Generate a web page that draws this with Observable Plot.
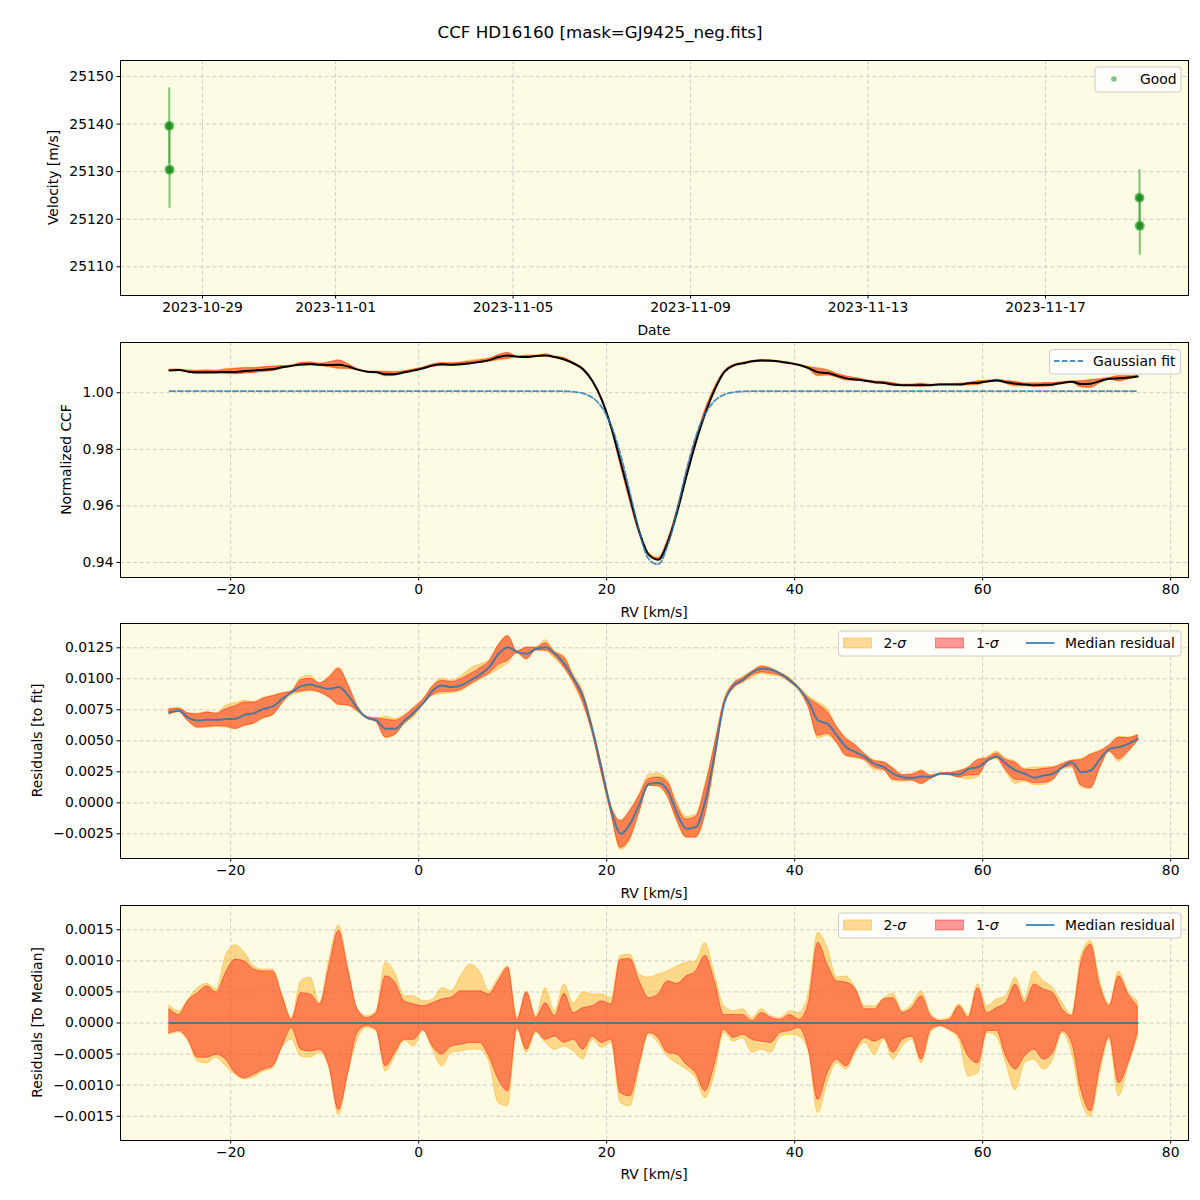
<!DOCTYPE html>
<html>
<head>
<meta charset="utf-8">
<script src="https://cdn.jsdelivr.net/npm/d3@7"></script>
<script src="https://cdn.jsdelivr.net/npm/@observablehq/plot@0.6"></script>
<style>
html, body { margin: 0; padding: 0; background: #ffffff; }
#fig { position: relative; width: 1200px; height: 1200px; font-family: "DejaVu Sans", sans-serif; background: #ffffff; }
#title { position: absolute; left: 0; top: 22px; width: 1200px; text-align: center; font-size: 16.7px; line-height: 20px; color: #000; }
</style>
</head>
<body>
<div id="fig"><div id="title">CCF HD16160 [mask=GJ9425_neg.fits]</div></div>
<script>
// ---------------- Panel 1 : RV time series ----------------
const obsTime = ["2023-10-28T06:00:00Z", "2023-10-28T06:10:00Z", "2023-11-19T02:50:00Z", "2023-11-19T03:00:00Z"];
const obsVel  = [25139.6, 25130.4, 25124.5, 25118.6];
const obsErr  = [8.0, 8.1, 5.9, 6.2];
const dateTicks = ["2023-10-29", "2023-11-01", "2023-11-05", "2023-11-09", "2023-11-13", "2023-11-17"];
const velTicks = [25110, 25120, 25130, 25140, 25150];

// ---------------- CCF grid (km/s) ----------------
const rv = [-26.5,-25.5,-24.5,-23.5,-22.5,-21.5,-20.5,-19.5,-18.5,-17.5,-16.5,-15.5,-14.5,-13.5,-12.5,-11.5,-10.5,-9.5,-8.5,-7.5,-6.5,-5.5,-4.5,-3.5,-2.5,-1.5,-0.5,
  0.5,1.5,2.5,3.5,4.5,5.5,6.5,7.5,8.5,9.5,10.5,11.5,12.5,13.5,14.5,15.5,16.5,17.5,18.5,19.5,20.5,21.5,22.5,23.5,24.5,
  25.5,26.5,27.5,28.5,29.5,30.5,31.5,32.5,33.5,34.5,35.5,36.5,37.5,38.5,39.5,40.5,41.5,42.5,43.5,44.5,45.5,46.5,47.5,48.5,49.5,
  50.5,51.5,52.5,53.5,54.5,55.5,56.5,57.5,58.5,59.5,60.5,61.5,62.5,63.5,64.5,65.5,66.5,67.5,68.5,69.5,70.5,71.5,72.5,73.5,74.5,75.5,76.5];

// Gaussian fit values at each RV
const gaussFit = [1.0006,1.0006,1.0006,1.0006,1.0006,1.0006,1.0006,1.0006,1.0006,1.0006,1.0006,1.0006,1.0006,1.0006,1.0006,1.0006,1.0006,1.0006,1.0006,1.0006,1.0006,1.0006,1.0006,1.0006,1.0006,1.0006,1.0006,
  1.0006,1.0006,1.0006,1.0006,1.0006,1.0006,1.0006,1.0006,1.0006,1.0006,1.0006,1.0006,1.0006,1.0006,1.0006,
  1.00054,1.00035,0.99978,0.99826,0.99482,0.98828,0.97787,0.96438,0.95070,0.94116,0.93940,0.94614,0.95871,0.97276,0.98458,0.99265,0.99718,0.99933,1.00019,1.00049,1.00059,
  1.0006,1.0006,1.0006,1.0006,1.0006,1.0006,1.0006,1.0006,1.0006,1.0006,1.0006,1.0006,1.0006,1.0006,1.0006,1.0006,1.0006,1.0006,1.0006,1.0006,1.0006,
  1.0006,1.0006,1.0006,1.0006,1.0006,1.0006,1.0006,1.0006,1.0006,1.0006,1.0006,1.0006,1.0006,1.0006,1.0006,1.0006,1.0006,1.0006,1.0006,1.0006];

// Median residual (CCF - fit)
const medianResid = [0.00731,0.00745,0.00685,0.00664,0.00669,0.00669,0.00675,0.00677,0.00710,0.00723,0.00758,0.00777,0.00839,0.00892,0.00941,0.00954,0.00933,0.00919,0.00933,0.00866,0.00758,0.00685,0.00664,0.00597,0.00597,0.00664,0.00731,
  0.00804,0.00906,0.00946,0.00933,0.00946,0.00987,0.01032,0.01094,0.01202,0.01255,0.01215,0.01202,0.01242,0.01255,0.01202,0.01121,0.01000,0.00852,0.00583,0.00261,-0.00062,-0.00250,-0.00169,-0.00008,0.00153,
  0.00159,0.00099,-0.00089,-0.00210,-0.00196,0.00019,0.00395,0.00798,0.00946,0.00992,0.01054,0.01081,0.01073,0.01040,0.00987,0.00919,0.00812,0.00664,0.00637,0.00543,0.00449,0.00409,0.00368,0.00314,0.00288,
  0.00234,0.00207,0.00202,0.00212,0.00207,0.00234,0.00234,0.00228,0.00274,0.00288,0.00341,0.00374,0.00314,0.00261,0.00234,0.00202,0.00220,0.00234,0.00288,0.00328,0.00247,0.00261,0.00355,0.00435,0.00449,0.00476,0.00516];

// Percentile bands relative to the median, listed in units of 1e-4
const sig2Hi = [2.8,1.9,3.8,5.6,6.3,5.4,10.8,12.5,11.3,9.1,8.6,8.6,4.6,0.8,6.7,7.3,3.2,10.2,15.7,9.1,2.3,1.1,1.9,9.7,8.1,4.3,4.3,
  3.5,3.7,5.6,5.1,7.5,9.4,8.3,5.1,7.3,9.1,0.8,5.1,1.1,5.6,1.9,6.2,3.2,4.9,4.6,4.6,4.0,10.8,11.0,7.8,7.3,
  7.8,8.3,9.1,9.7,9.9,12.9,7.8,2.7,1.9,2.2,0.8,2.2,1.1,0.8,1.9,1.6,4.8,14.5,12.1,7.3,7.5,5.6,2.7,2.7,4.0,
  4.7,1.9,3.0,5.1,1.5,0.5,0.8,3.0,1.3,6.2,2.7,3.8,4.3,7.3,4.0,8.3,6.7,5.6,3.2,1.3,10.8,13.2,6.7,3.0,8.3,5.1,3.5];
const sig1Hi = [2.2,1.3,3.6,4.8,5.9,4.9,8.1,10.2,9.9,8.6,8.3,8.3,4.3,0.5,4.8,4.6,3.0,9.1,14.8,8.6,2.2,0.8,1.6,7.5,6.5,3.5,3.0,
  2.7,3.2,3.8,4.1,5.1,5.1,5.1,4.6,6.7,8.9,0.5,4.9,0.8,3.2,1.1,4.7,1.6,2.4,2.7,3.5,3.0,10.2,10.3,6.7,4.0,
  4.6,6.7,6.3,7.5,8.3,10.8,6.7,1.3,1.3,1.3,0.3,1.6,0.8,0.5,1.3,0.5,3.2,12.9,9.4,6.7,6.5,5.4,2.2,2.2,3.8,
  4.0,1.6,2.4,4.3,1.1,0.3,0.5,2.7,0.8,5.6,1.6,2.4,3.2,6.2,3.2,6.2,5.4,4.8,2.2,1.1,9.7,12.6,5.9,2.7,7.5,4.6,2.7];
const sig1Lo = [-1.7,-1.3,-2.7,-5.6,-5.6,-5.1,-5.9,-8.1,-8.9,-8.3,-7.5,-7.0,-3.8,-0.8,-4.3,-4.6,-4.3,-7.0,-14.0,-8.1,-1.6,-0.5,-1.1,-7.0,-4.8,-2.7,-2.7,
  -1.1,-3.8,-5.1,-3.8,-3.5,-3.2,-3.2,-5.4,-9.1,-11.0,-0.8,-4.3,-1.3,-2.7,-2.2,-3.2,-2.7,-4.3,-2.2,-3.2,-2.7,-11.3,-11.8,-6.5,-1.6,
  -2.4,-4.8,-5.1,-6.7,-8.1,-11.0,-6.7,-1.1,-2.4,-1.9,-2.7,-3.0,-3.2,-1.6,-1.3,-0.8,-4.3,-12.4,-8.1,-5.9,-7.0,-4.3,-2.4,-3.0,-2.4,
  -4.8,-2.7,-2.2,-5.9,-1.1,-0.5,-1.1,-2.2,-5.4,-6.5,-1.3,-1.3,-5.4,-7.5,-5.4,-4.3,-5.9,-4.8,-1.3,-3.2,-10.8,-14.2,-7.0,-2.2,-9.7,-6.5,-1.6];
const sig2Lo = [-1.9,-1.5,-3.0,-6.2,-6.5,-5.6,-7.0,-8.3,-9.1,-8.7,-7.8,-7.3,-4.0,-2.7,-5.4,-5.6,-4.8,-7.3,-14.8,-8.3,-2.7,-0.8,-1.3,-7.8,-5.4,-2.9,-3.8,
  -1.3,-4.3,-7.0,-4.8,-4.6,-4.3,-4.3,-6.2,-12.9,-13.4,-1.1,-4.8,-1.6,-3.2,-4.3,-3.8,-4.6,-5.9,-2.7,-4.0,-3.2,-12.9,-13.4,-7.3,-1.9,
  -3.2,-5.4,-6.5,-7.5,-8.9,-12.1,-8.3,-1.6,-3.0,-2.4,-4.8,-4.3,-4.8,-2.2,-1.9,-2.2,-4.6,-14.5,-9.7,-6.5,-7.5,-4.8,-3.2,-5.1,-2.7,
  -5.9,-3.8,-2.7,-6.5,-1.6,-0.6,-1.3,-2.7,-8.6,-8.1,-1.6,-2.2,-6.5,-10.8,-6.5,-5.9,-7.5,-5.9,-1.6,-4.8,-12.4,-15.1,-8.1,-2.7,-11.8,-7.0,-2.4];

const rvTicks = [-20, 0, 20, 40, 60, 80];
const ccfTicks = [0.94, 0.96, 0.98, 1.00];
const residTicks = [-0.0025, 0, 0.0025, 0.005, 0.0075, 0.01, 0.0125];
const medTicks = [-0.0015, -0.001, -0.0005, 0, 0.0005, 0.001, 0.0015];

// ---------------- tables ----------------
const obs = obsTime.map((t, i) => ({t: new Date(t), v: obsVel[i], e: obsErr[i]}));
const U = 1e-4;
const rows = rv.map((r, i) => ({
  rv: r, fit: gaussFit[i], med: medianResid[i],
  s2h: sig2Hi[i] * U, s1h: sig1Hi[i] * U, s1l: sig1Lo[i] * U, s2l: sig2Lo[i] * U
}));

// ---------------- styling ----------------
const BG = "#fdfbe3";
const GRID = {stroke: "#c8c8c8", strokeDasharray: "4,2.6", strokeWidth: 0.9, strokeOpacity: 1};
const FONT = {fontFamily: "DejaVu Sans", fontSize: "13.9px", background: "transparent", color: "black", overflow: "visible"};
const GREEN = "#2ca02c";
const fig = document.getElementById("fig");

function panel(plotTop, xScale, yScale, xTicks, xFmt, yTicks, yFmt, marks) {
  const svg = Plot.plot({
    width: 1200, height: 290,
    marginLeft: 120, marginRight: 12, marginTop: 10, marginBottom: 45,
    style: FONT,
    x: xScale, y: yScale,
    marks: [
      Plot.frame({fill: BG, stroke: "none"}),
      Plot.gridX(xTicks, GRID),
      Plot.gridY(yTicks, GRID),
      ...marks,
      Plot.frame({stroke: "black", strokeWidth: 1}),
      Plot.axisX(xTicks, {tickFormat: xFmt, tickSize: 3.5, tickPadding: 3, label: null, strokeWidth: 1}),
      Plot.axisY(yTicks, {tickFormat: yFmt, tickSize: 3.5, tickPadding: 3.5, label: null, strokeWidth: 1})
    ]
  });
  svg.style.position = "absolute";
  svg.style.left = "0px";
  svg.style.top = (plotTop - 10) + "px";
  fig.appendChild(svg);
}

function bands(yBase) {
  return [
    Plot.areaY(rows, {x: "rv", y1: d => yBase(d) + d.s2l, y2: d => yBase(d) + d.s2h, curve: "monotone-x",
      fill: "orange", fillOpacity: 0.4, stroke: "orange", strokeOpacity: 0.4, strokeWidth: 1}),
    Plot.areaY(rows, {x: "rv", y1: d => yBase(d) + d.s1l, y2: d => yBase(d) + d.s1h, curve: "monotone-x",
      fill: "red", fillOpacity: 0.4, stroke: "red", strokeOpacity: 0.4, strokeWidth: 1})
  ];
}

const rvScale = {type: "linear", domain: [-31.72, 81.9], label: null};

// Panel 1
panel(60,
  {type: "utc", domain: [new Date("2023-10-27T03:39:00Z"), new Date("2023-11-20T05:21:00Z")], label: null},
  {domain: [25103.96, 25153.37], label: null},
  dateTicks.map(d => new Date(d + "T00:00:00Z")), d3.utcFormat("%Y-%m-%d"),
  velTicks, d3.format("d"),
  [
    Plot.ruleX(obs, {x: "t", y1: d => d.v - d.e, y2: d => d.v + d.e, stroke: GREEN, strokeOpacity: 0.6, strokeWidth: 2}),
    Plot.dot(obs, {x: "t", y: "v", r: 5, fill: GREEN, fillOpacity: 0.7, stroke: "none"}),
    Plot.dot(obs, {x: "t", y: "v", r: 3.4, fill: "#168416", fillOpacity: 0.75, stroke: "none"})
  ]);

// Panel 2
panel(342, rvScale, {domain: [0.9347, 1.01777], label: null},
  rvTicks, d3.format("d"), ccfTicks, d3.format(".2f"),
  [
    ...bands(d => d.fit + d.med),
    Plot.lineY(rows, {x: "rv", y: d => d.fit + d.med, curve: "monotone-x", stroke: "black", strokeWidth: 2}),
    Plot.lineY(rows, {x: "rv", y: "fit", curve: "catmull-rom", stroke: "#1f77b4", strokeOpacity: 0.8, strokeWidth: 1.8, strokeDasharray: "5.5,2.4"})
  ]);

// Panel 3
panel(623, rvScale, {domain: [-0.00449, 0.01446], label: null},
  rvTicks, d3.format("d"), residTicks, d3.format(".4f"),
  [
    ...bands(d => d.med),
    Plot.lineY(rows, {x: "rv", y: "med", curve: "monotone-x", stroke: "#1f77b4", strokeOpacity: 0.8, strokeWidth: 2})
  ]);

// Panel 4
panel(905, rvScale, {domain: [-0.00189, 0.00189], label: null},
  rvTicks, d3.format("d"), medTicks, d3.format(".4f"),
  [
    ...bands(d => 0),
    Plot.lineY(rows, {x: "rv", y: d => d.med - d.med, stroke: "#1f77b4", strokeOpacity: 0.8, strokeWidth: 2})
  ]);

// ---------------- overlay: axis labels and legends ----------------
const ov = d3.select("#fig").append("svg")
  .attr("width", 1200).attr("height", 1200)
  .style("position", "absolute").style("left", "0px").style("top", "0px")
  .style("font-family", "DejaVu Sans").style("font-size", "13.9px");

function label(text, x, y, rot) {
  return ov.append("text").attr("text-anchor", "middle").attr("dominant-baseline", "central").attr("fill", "black")
    .attr("transform", `translate(${x},${y})` + (rot ? " rotate(-90)" : "")).text(text);
}
label("Date", 654, 330, false);
label("RV [km/s]", 654, 612, false);
label("RV [km/s]", 654, 893, false);
label("RV [km/s]", 654, 1174, false);
label("Velocity [m/s]", 53, 177.5, true);
label("Normalized CCF", 66, 459.5, true);
label("Residuals [to fit]", 37, 740.5, true);
label("Residuals [To Median]", 37, 1022.5, true);

function box(x0, y0, x1, y1) {
  ov.append("rect").attr("x", x0).attr("y", y0).attr("width", x1 - x0).attr("height", y1 - y0).attr("rx", 3)
    .attr("fill", "white").attr("fill-opacity", 0.8).attr("stroke", "#cccccc").attr("stroke-width", 1);
}
function ltext(x, y, parts) {
  const t = ov.append("text").attr("x", x).attr("y", y).attr("dominant-baseline", "central").attr("fill", "black");
  parts.forEach(p => t.append("tspan").attr("font-style", p.italic ? "italic" : "normal").text(p.s));
}

// legend 1
box(1095, 67, 1181, 92);
ov.append("circle").attr("cx", 1114).attr("cy", 79).attr("r", 2.8).attr("fill", GREEN).attr("fill-opacity", 0.6);
ltext(1140, 78.5, [{s: "Good"}]);

// legend 2
box(1049.5, 349.5, 1180.5, 374);
ov.append("line").attr("x1", 1054).attr("x2", 1083).attr("y1", 361).attr("y2", 361)
  .attr("stroke", "#1f77b4").attr("stroke-opacity", 0.8).attr("stroke-width", 1.8).attr("stroke-dasharray", "5.5,2.4");
ltext(1093, 361, [{s: "Gaussian fit"}]);

// legends 3 & 4
[631, 913].forEach(y0 => {
  box(838.5, y0, 1181, y0 + 25);
  const cy = y0 + 12;
  ov.append("rect").attr("x", 843.5).attr("y", cy - 5).attr("width", 28).attr("height", 10)
    .attr("fill", "orange").attr("fill-opacity", 0.4).attr("stroke", "orange").attr("stroke-opacity", 0.4);
  ltext(883.5, cy, [{s: "2-"}, {s: "σ", italic: true}]);
  ov.append("rect").attr("x", 935.5).attr("y", cy - 5).attr("width", 28).attr("height", 10)
    .attr("fill", "red").attr("fill-opacity", 0.4).attr("stroke", "red").attr("stroke-opacity", 0.4);
  ltext(976, cy, [{s: "1-"}, {s: "σ", italic: true}]);
  ov.append("line").attr("x1", 1026).attr("x2", 1054.5).attr("y1", cy).attr("y2", cy)
    .attr("stroke", "#1f77b4").attr("stroke-opacity", 0.8).attr("stroke-width", 2);
  ltext(1065, cy, [{s: "Median residual"}]);
});
</script>
</body>
</html>
